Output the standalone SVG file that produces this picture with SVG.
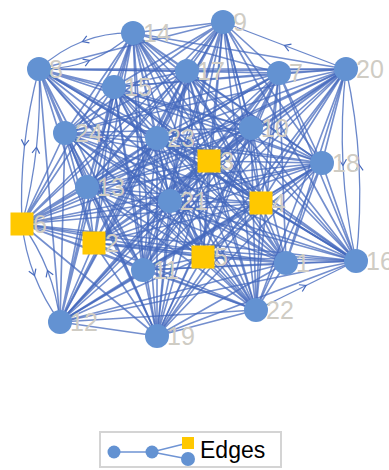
<svg xmlns="http://www.w3.org/2000/svg" width="389" height="470" viewBox="0 0 389 470">
<style>
.e{fill:none;stroke:#4569bd;stroke-opacity:0.75;stroke-width:1.65}
.a{fill:none;stroke:#4569bd;stroke-opacity:0.8;stroke-width:1.3;marker-mid:url(#arr)}
.n{fill:#6392d2}
.s{fill:#ffc800}
.t{font-family:"Liberation Sans",Arial,sans-serif;font-size:25px;fill:#cfccc4}
.lg{font-family:"Liberation Sans",Arial,sans-serif;font-size:23px;fill:#000}
</style>
<defs>
<marker id="arr" markerUnits="userSpaceOnUse" viewBox="-7 -5 9 10" refX="0" refY="0" markerWidth="9" markerHeight="10" orient="auto" overflow="visible">
<path d="M-6,-3.8L0,0L-6,3.8" fill="none" stroke="#4569bd" stroke-width="1.2"/>
</marker>
</defs>
<rect width="389" height="470" fill="#fff"/>
<g id="connectors">
<path class="e" d="M286,263L94,243M286,263L209,161M286,263L261,203M286,263L203,257M286,263L22,224M286,263L279,73M286,263L39,69M286,263L223,22M286,263L251,128M286,263L143,270M286,263L60,322M286,263L87,187M286,263L133,33M286,263L114,87M286,263L356,261M286,263L187,71M286,263L322,163M286,263L157,336M286,263L346,69M286,263L170,201M286,263L256,310M286,263L157,138M286,263L65,133"/>
<path class="e" d="M94,243L209,161M94,243L261,203M94,243L203,257M94,243L22,224M94,243L279,73M94,243L39,69M94,243L223,22M94,243L251,128M94,243L143,270M94,243L60,322M94,243L87,187M94,243L133,33M94,243L114,87M94,243L356,261M94,243L187,71M94,243L322,163M94,243L157,336M94,243L346,69M94,243L170,201M94,243L256,310M94,243L157,138M94,243L65,133"/>
<path class="e" d="M209,161L261,203M209,161L203,257M209,161L22,224M209,161L279,73M209,161L39,69M209,161L223,22M209,161L251,128M209,161L143,270M209,161L60,322M209,161L87,187M209,161L133,33M209,161L114,87M209,161L356,261M209,161L187,71M209,161L322,163M209,161L157,336M209,161L346,69M209,161L170,201M209,161L256,310M209,161L157,138M209,161L65,133"/>
<path class="e" d="M261,203L203,257M261,203L22,224M261,203L279,73M261,203L39,69M261,203L223,22M261,203L251,128M261,203L143,270M261,203L60,322M261,203L87,187M261,203L133,33M261,203L114,87M261,203L356,261M261,203L187,71M261,203L322,163M261,203L157,336M261,203L346,69M261,203L170,201M261,203L256,310M261,203L157,138M261,203L65,133"/>
<path class="e" d="M203,257L22,224M203,257L279,73M203,257L39,69M203,257L223,22M203,257L251,128M203,257L143,270M203,257L60,322M203,257L87,187M203,257L133,33M203,257L114,87M203,257L356,261M203,257L187,71M203,257L322,163M203,257L157,336M203,257L346,69M203,257L170,201M203,257L256,310M203,257L157,138M203,257L65,133"/>
<path class="e" d="M22,224L279,73M22,224L223,22M22,224L251,128M22,224L143,270M22,224L87,187M22,224L133,33M22,224L114,87M22,224L356,261M22,224L187,71M22,224L322,163M22,224L157,336M22,224L346,69M22,224L170,201M22,224L256,310M22,224L157,138M22,224L65,133"/>
<path class="e" d="M279,73L39,69M279,73L223,22M279,73L251,128M279,73L143,270M279,73L60,322M279,73L87,187M279,73L133,33M279,73L114,87M279,73L356,261M279,73L187,71M279,73L322,163M279,73L157,336M279,73L346,69M279,73L170,201M279,73L256,310M279,73L157,138M279,73L65,133"/>
<path class="e" d="M39,69L223,22M39,69L251,128M39,69L143,270M39,69L60,322M39,69L87,187M39,69L114,87M39,69L356,261M39,69L187,71M39,69L322,163M39,69L157,336M39,69L346,69M39,69L170,201M39,69L256,310M39,69L157,138M39,69L65,133"/>
<path class="e" d="M223,22L251,128M223,22L143,270M223,22L60,322M223,22L87,187M223,22L133,33M223,22L114,87M223,22L356,261M223,22L187,71M223,22L322,163M223,22L157,336M223,22L170,201M223,22L256,310M223,22L157,138M223,22L65,133"/>
<path class="e" d="M251,128L143,270M251,128L60,322M251,128L87,187M251,128L133,33M251,128L114,87M251,128L356,261M251,128L187,71M251,128L322,163M251,128L157,336M251,128L346,69M251,128L170,201M251,128L256,310M251,128L157,138M251,128L65,133"/>
<path class="e" d="M143,270L60,322M143,270L87,187M143,270L133,33M143,270L114,87M143,270L356,261M143,270L187,71M143,270L322,163M143,270L157,336M143,270L346,69M143,270L170,201M143,270L256,310M143,270L157,138M143,270L65,133"/>
<path class="e" d="M60,322L87,187M60,322L133,33M60,322L114,87M60,322L356,261M60,322L187,71M60,322L322,163M60,322L157,336M60,322L346,69M60,322L170,201M60,322L256,310M60,322L157,138M60,322L65,133"/>
<path class="e" d="M87,187L133,33M87,187L114,87M87,187L356,261M87,187L187,71M87,187L322,163M87,187L157,336M87,187L346,69M87,187L170,201M87,187L256,310M87,187L157,138M87,187L65,133"/>
<path class="e" d="M133,33L114,87M133,33L356,261M133,33L187,71M133,33L322,163M133,33L157,336M133,33L346,69M133,33L170,201M133,33L256,310M133,33L157,138M133,33L65,133"/>
<path class="e" d="M114,87L356,261M114,87L187,71M114,87L322,163M114,87L157,336M114,87L346,69M114,87L170,201M114,87L256,310M114,87L157,138M114,87L65,133"/>
<path class="e" d="M356,261L187,71M356,261L322,163M356,261L157,336M356,261L170,201M356,261L157,138M356,261L65,133"/>
<path class="e" d="M187,71L322,163M187,71L157,336M187,71L346,69M187,71L170,201M187,71L256,310M187,71L157,138M187,71L65,133"/>
<path class="e" d="M322,163L157,336M322,163L346,69M322,163L170,201M322,163L256,310M322,163L157,138M322,163L65,133"/>
<path class="e" d="M157,336L346,69M157,336L170,201M157,336L256,310M157,336L157,138M157,336L65,133"/>
<path class="e" d="M346,69L170,201M346,69L256,310M346,69L157,138M346,69L65,133"/>
<path class="e" d="M170,201L256,310M170,201L157,138M170,201L65,133M256,310L157,138M256,310L65,133M157,138L65,133"/>
<path class="a" d="M346,69Q340.5,117.5 343,165.5Q345.5,213.5 356,261"/>
<path class="a" d="M356,261Q361.5,212.5 359,164.5Q356.5,116.5 346,69"/>
<path class="a" d="M133,33Q106,32.5 82.5,41.5Q59,50.5 39,69"/>
<path class="a" d="M39,69Q66,69.5 89.5,60.5Q113,51.5 133,33"/>
<path class="a" d="M22,224Q25,251 34.5,275.5Q44,300 60,322"/>
<path class="a" d="M60,322Q57,295 47.5,270.5Q38,246 22,224"/>
<path class="a" d="M22,224Q32.25,186 36.5,147.25Q40.75,108.5 39,69"/>
<path class="a" d="M39,69Q28.75,107 24.5,145.75Q20.25,184.5 22,224"/>
<path class="a" d="M346,69L284.5,45.5L223,22"/>
<path class="a" d="M256,310L306,285.5L356,261"/>
</g>
<g id="n1"><circle class="n" cx="286" cy="263" r="12"/><text class="t" x="296" y="272">1</text></g>
<g id="n2"><rect class="s" x="82.5" y="231.5" width="23" height="23"/><text class="t" x="105" y="252">2</text></g>
<g id="n3"><rect class="s" x="197.5" y="149.5" width="23" height="23"/><text class="t" x="220" y="170">3</text></g>
<g id="n4"><rect class="s" x="249.5" y="191.5" width="23" height="23"/><text class="t" x="272" y="212">4</text></g>
<g id="n5"><rect class="s" x="191.5" y="245.5" width="23" height="23"/><text class="t" x="214" y="266">5</text></g>
<g id="n6"><rect class="s" x="10.5" y="212.5" width="23" height="23"/><text class="t" x="33" y="233">6</text></g>
<g id="n7"><circle class="n" cx="279" cy="73" r="12"/><text class="t" x="289" y="82">7</text></g>
<g id="n8"><circle class="n" cx="39" cy="69" r="12"/><text class="t" x="49" y="78">8</text></g>
<g id="n9"><circle class="n" cx="223" cy="22" r="12"/><text class="t" x="233" y="31">9</text></g>
<g id="n10"><circle class="n" cx="251" cy="128" r="12"/><text class="t" x="261" y="137">10</text></g>
<g id="n11"><circle class="n" cx="143" cy="270" r="12"/><text class="t" x="153" y="279">11</text></g>
<g id="n12"><circle class="n" cx="60" cy="322" r="12"/><text class="t" x="70" y="331">12</text></g>
<g id="n13"><circle class="n" cx="87" cy="187" r="12"/><text class="t" x="97" y="196">13</text></g>
<g id="n14"><circle class="n" cx="133" cy="33" r="12"/><text class="t" x="143" y="42">14</text></g>
<g id="n15"><circle class="n" cx="114" cy="87" r="12"/><text class="t" x="124" y="96">15</text></g>
<g id="n16"><circle class="n" cx="356" cy="261" r="12"/><text class="t" x="366" y="270">16</text></g>
<g id="n17"><circle class="n" cx="187" cy="71" r="12"/><text class="t" x="197" y="80">17</text></g>
<g id="n18"><circle class="n" cx="322" cy="163" r="12"/><text class="t" x="332" y="172">18</text></g>
<g id="n19"><circle class="n" cx="157" cy="336" r="12"/><text class="t" x="167" y="345">19</text></g>
<g id="n20"><circle class="n" cx="346" cy="69" r="12"/><text class="t" x="356" y="78">20</text></g>
<g id="n21"><circle class="n" cx="170" cy="201" r="12"/><text class="t" x="180" y="210">21</text></g>
<g id="n22"><circle class="n" cx="256" cy="310" r="12"/><text class="t" x="266" y="319">22</text></g>
<g id="n23"><circle class="n" cx="157" cy="138" r="12"/><text class="t" x="167" y="147">23</text></g>
<g id="n24"><circle class="n" cx="65" cy="133" r="12"/><text class="t" x="75" y="142">24</text></g>
<g id="legend">
<rect x="100" y="432" width="181" height="35" fill="#fff" stroke="#d4d4d4" stroke-width="2"/>
<path d="M114,452L152,452L188,443M152,452L188,459" fill="none" stroke="#6f94d4" stroke-width="1.5"/>
<circle class="n" cx="114" cy="452" r="6.5"/>
<circle class="n" cx="152" cy="452" r="6.5"/>
<circle class="n" cx="188" cy="459" r="7"/>
<rect class="s" x="182" y="437" width="12" height="12"/>
<text class="lg" x="200" y="458">Edges</text>
</g>
</svg>
